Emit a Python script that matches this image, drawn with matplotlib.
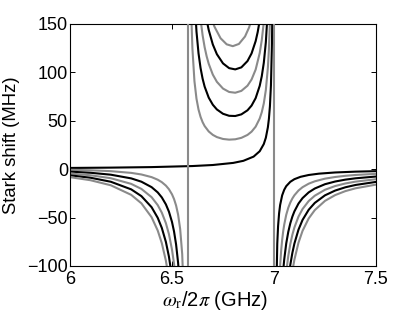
import matplotlib
matplotlib.use('Agg')
import matplotlib.pyplot as plt

plt.rcParams['font.family'] = ['Liberation Sans', 'DejaVu Sans']
plt.rcParams['mathtext.fontset'] = 'stix'

# ---------------- data ----------------
photon_numbers = [0, 1, 2, 3, 4, 5]
curve_colors = ['black', 'gray', 'black', 'gray', 'black', 'gray']

pole_12 = 6.577   # GHz, left divergence (vertical line)
pole_01 = 7.0     # GHz, right divergence (vertical line)

# n = 0 curve (continuous through the left pole)
n0_left_x = [6.0, 6.2, 6.4, 6.6, 6.7, 6.8, 6.85, 6.9, 6.93, 6.95, 6.96, 6.97, 6.975, 6.98, 6.985, 6.99, 6.992]
n0_left_y = [1.30, 1.63, 2.17, 3.25, 4.33, 6.50, 8.67, 13.0, 18.57, 26.0, 32.5, 43.33, 52.0, 65.0, 86.67, 130.0, 162.5]
n0_right_x = [7.01, 7.016, 7.02, 7.025, 7.03, 7.04, 7.05, 7.06, 7.08, 7.10, 7.13, 7.17, 7.22, 7.30, 7.40, 7.50]
n0_right_y = [-142.9, -76.9, -58.8, -45.5, -37.0, -27.0, -21.3, -17.5, -13.0, -10.3, -7.87, -5.99, -4.61, -3.37, -2.52, -2.01]

# left branch (x < pole_12), shared grid, each curve truncated once off-scale
left_x = [6.00, 6.10, 6.20, 6.30, 6.35, 6.40, 6.43, 6.45, 6.47, 6.485, 6.50, 6.51, 6.52, 6.53, 6.54, 6.55, 6.56]
left_n1 = [-0.61, -1.12, -2.02, -3.81, -5.45, -8.19, -10.85, -13.38, -16.94, -20.69, -25.97, -30.85, -37.49, -47.02, -61.79, -87.63, -144.1]
left_n2 = [-2.51, -3.68, -5.67, -9.49, -12.91, -18.55, -23.97, -29.13, -36.33, -43.90, -54.53, -64.35, -77.69, -96.81, -126.4]
left_n3 = [-4.42, -6.24, -9.32, -15.16, -20.36, -28.90, -37.10, -44.87, -55.73, -67.12, -83.10, -97.84, -117.9]
left_n4 = [-6.32, -8.80, -12.96, -20.83, -27.82, -39.26, -50.22, -60.62, -75.12, -90.33, -111.7]
left_n5 = [-8.23, -11.37, -16.61, -26.50, -35.27, -49.61, -63.35, -76.36, -94.51, -113.5]

# middle branch (between the poles)
mid_n1_x = [6.59, 6.595, 6.60, 6.61, 6.62, 6.63, 6.64, 6.65, 6.66, 6.68, 6.70, 6.72, 6.75, 6.78, 6.81, 6.84, 6.87, 6.89, 6.91, 6.93, 6.94, 6.95, 6.96, 6.97, 6.975, 6.98, 6.985]
mid_n1_y = [211.8, 156.4, 125.0, 90.97, 72.84, 61.62, 54.05, 48.62, 44.56, 38.99, 35.47, 33.18, 31.23, 30.54, 30.90, 32.39, 35.41, 38.76, 43.92, 52.37, 58.83, 67.97, 81.79, 104.95, 123.5, 151.5, 198.0]
mid_n2_x = [6.60, 6.61, 6.62, 6.63, 6.64, 6.65, 6.66, 6.68, 6.70, 6.72, 6.75, 6.78, 6.81, 6.84, 6.87, 6.89, 6.91, 6.93, 6.94, 6.95, 6.96, 6.97, 6.975]
mid_n2_y = [246.8, 178.6, 142.2, 119.7, 104.5, 93.52, 85.30, 73.93, 66.61, 61.72, 57.26, 55.17, 54.95, 56.65, 60.83, 65.70, 73.40, 86.16, 95.99, 109.9, 131.1, 166.6, 195.1]
mid_n3_x = [6.62, 6.63, 6.64, 6.65, 6.66, 6.67, 6.68, 6.70, 6.72, 6.75, 6.78, 6.81, 6.84, 6.87, 6.89, 6.91, 6.93, 6.94, 6.95, 6.96]
mid_n3_y = [211.7, 177.8, 154.9, 138.4, 126.0, 116.5, 108.9, 97.75, 90.26, 83.29, 79.79, 79.00, 80.91, 86.24, 92.65, 102.9, 120.0, 133.2, 151.9, 180.4]
mid_n4_x = [6.64, 6.65, 6.66, 6.67, 6.68, 6.70, 6.72, 6.75, 6.78, 6.81, 6.84, 6.87, 6.89, 6.91, 6.92, 6.93, 6.94]
mid_n4_y = [205.4, 183.3, 166.8, 153.9, 143.8, 128.9, 118.8, 109.3, 104.4, 103.1, 105.2, 111.7, 119.6, 132.3, 141.6, 153.7, 170.3]
mid_n5_x = [6.668, 6.688, 6.698, 6.708, 6.738, 6.768, 6.798, 6.828, 6.858, 6.878, 6.888, 6.898]
mid_n5_y = [178.7, 160.0, 153.1, 147.3, 135.3, 129.0, 127.1, 129.4, 137.1, 146.5, 153.2, 161.8]

# right branch (x > pole_01), shared grid; each curve starts just off-scale
right_x = [7.015, 7.02, 7.025, 7.03, 7.035, 7.04, 7.045, 7.05, 7.06, 7.07, 7.08, 7.09, 7.10, 7.12, 7.14, 7.17, 7.20, 7.25, 7.30, 7.35, 7.40, 7.50]
right_n1 = [-121.2, -99.6, -84.3, -73.0, -64.3, -57.38, -47.09, -39.83, -34.42, -30.24, -26.94, -22.03, -18.57, -14.97, -12.51, -9.76, -8.04, -6.82, -5.96, -4.79]
right_n2 = [-119.0, -104.8, -93.48, -76.64, -64.73, -55.85, -48.99, -43.57, -35.51, -29.84, -23.95, -19.94, -15.50, -12.71, -10.77, -9.40, -7.57]
right_n3 = [-129.6, -106.2, -89.63, -77.28, -67.74, -60.20, -48.99, -41.11, -32.93, -27.37, -21.24, -17.38, -14.72, -12.84, -10.35]
right_n4 = [-135.7, -114.5, -98.71, -86.49, -76.83, -62.47, -52.38, -41.91, -34.80, -26.98, -22.05, -18.67, -16.28, -13.13]
right_n5 = [-139.4, -120.1, -105.2, -93.46, -75.95, -63.65, -50.89, -42.23, -32.72, -26.72, -22.62, -19.72, -15.91]

x_ticks = [6, 6.5, 7, 7.5]
x_tick_labels = ['6', '6.5', '7', '7.5']
y_ticks = [-100, -50, 0, 50, 100, 150]
y_tick_labels = ['\u2212100', '\u221250', '0', '50', '100', '150']
x_label = r'$\omega_{\rm r}$/2$\pi$ (GHz)'
y_label = 'Stark shift (MHz)'

# ---------------- plotting ----------------
GRAY = '#8a8a8a'
col = {'black': 'black', 'gray': GRAY}
LW = 1.5

fig = plt.figure(figsize=(4.15, 3.13), dpi=100)
ax = fig.add_axes([70 / 415, 1 - 266 / 313, 306 / 415, 242 / 313])

lefts = [None, left_n1, left_n2, left_n3, left_n4, left_n5]
mids = [None, (mid_n1_x, mid_n1_y), (mid_n2_x, mid_n2_y), (mid_n3_x, mid_n3_y),
        (mid_n4_x, mid_n4_y), (mid_n5_x, mid_n5_y)]
rights = [None, right_n1, right_n2, right_n3, right_n4, right_n5]

for n in photon_numbers:
    c = col[curve_colors[n]]
    if n == 0:
        ax.plot(n0_left_x, n0_left_y, color=c, lw=LW, zorder=2)
        ax.plot(n0_right_x, n0_right_y, color=c, lw=LW, zorder=2)
        continue
    ly = lefts[n]
    ax.plot(left_x[:len(ly)], ly, color=c, lw=LW, zorder=2)
    mx, my = mids[n]
    ax.plot(mx, my, color=c, lw=LW, zorder=2)
    ry = rights[n]
    ax.plot(right_x[len(right_x) - len(ry):], ry, color=c, lw=LW, zorder=2)

for p in (pole_12, pole_01):
    ax.axvline(p, color=GRAY, lw=LW, zorder=3)

ax.set_xlim(6, 7.5)
ax.set_ylim(-100, 150)
ax.set_xticks(x_ticks)
ax.set_xticklabels(x_tick_labels)
ax.set_yticks(y_ticks)
ax.set_yticklabels(y_tick_labels)
ax.tick_params(direction='in', top=True, right=True, length=3.5, width=0.7,
               labelsize=13)
ax.tick_params(axis='x', pad=3.5)
ax.tick_params(axis='y', pad=1.5)
for s in ax.spines.values():
    s.set_linewidth(0.8)

ax.set_xlabel(x_label, fontsize=14.5)
ax.xaxis.set_label_coords(0.474, -0.142)
ax.xaxis.label.set_va('center')
ax.set_ylabel(y_label, fontsize=13.3)
ax.yaxis.set_label_coords(-0.19, 0.5)
ax.yaxis.label.set_va('center')

fig.savefig('out.png', dpi=100)
